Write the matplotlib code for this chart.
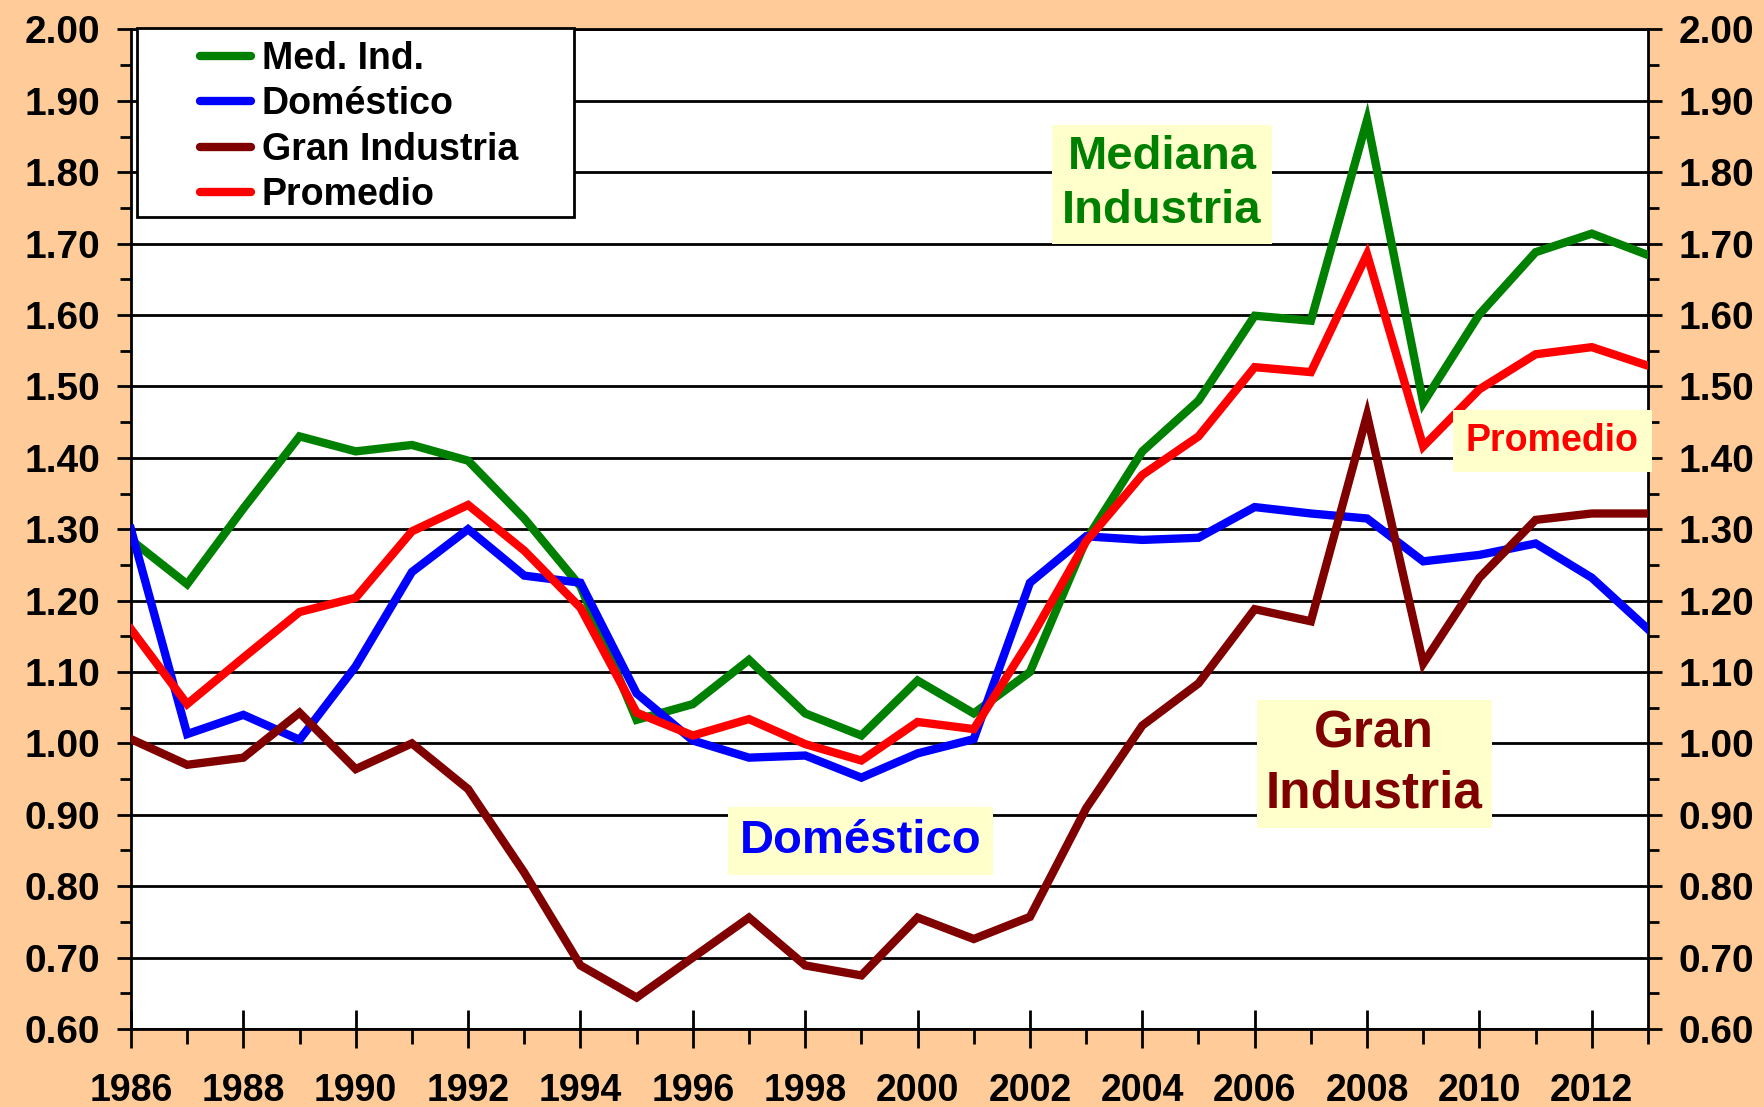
import matplotlib
matplotlib.use('Agg')
import matplotlib.pyplot as plt
from matplotlib.patches import Rectangle
from matplotlib.ticker import MultipleLocator, FormatStrFormatter

years = list(range(1986, 2014))

med_ind = [1.285, 1.223, 1.329, 1.430, 1.409, 1.418, 1.396, 1.315, 1.220, 1.033,
           1.055, 1.117, 1.042, 1.011, 1.088, 1.042, 1.100, 1.285, 1.409, 1.480,
           1.599, 1.592, 1.873, 1.477, 1.601, 1.688, 1.714, 1.684]
domestico = [1.300, 1.013, 1.040, 1.005, 1.108, 1.240, 1.300, 1.235, 1.225, 1.070,
             1.004, 0.980, 0.983, 0.952, 0.986, 1.006, 1.225, 1.290, 1.285, 1.288,
             1.331, 1.322, 1.315, 1.255, 1.264, 1.280, 1.232, 1.160]
gran_ind = [1.006, 0.970, 0.980, 1.043, 0.964, 1.000, 0.936, 0.819, 0.689, 0.644,
            0.700, 0.756, 0.689, 0.675, 0.756, 0.726, 0.757, 0.909, 1.025, 1.084,
            1.188, 1.171, 1.460, 1.112, 1.232, 1.313, 1.322, 1.322]
promedio = [1.160, 1.055, 1.120, 1.184, 1.204, 1.297, 1.334, 1.270, 1.190, 1.043,
            1.011, 1.034, 0.999, 0.976, 1.030, 1.020, 1.145, 1.283, 1.376, 1.430,
            1.527, 1.520, 1.685, 1.416, 1.496, 1.545, 1.555, 1.529]

series = [
    ("Med. Ind.", med_ind, "#008000"),
    ("Doméstico", domestico, "#0000FF"),
    ("Gran Industria", gran_ind, "#800000"),
    ("Promedio", promedio, "#FF0000"),
]

BG = "#FFCC99"
NOTE_BG = "#FFFFCC"
plt.rcParams['font.family'] = ['Liberation Sans', 'DejaVu Sans']
plt.rcParams['font.weight'] = 'bold'

fig = plt.figure(figsize=(17.65, 11.07), dpi=100, facecolor=BG)
ax = fig.add_axes([0.0742, 0.0705, 0.8595, 0.9029])
ax.set_facecolor("white")

for label, vals, color in series:
    ax.plot(years, vals, color=color, lw=6, label=label, solid_joinstyle='miter', zorder=3)

ax.set_xlim(1986, 2013)
ax.set_ylim(0.60, 2.00)

ax.yaxis.set_major_locator(MultipleLocator(0.1))
ax.yaxis.set_minor_locator(MultipleLocator(0.05))
ax.yaxis.set_major_formatter(FormatStrFormatter('%.2f'))
ax.xaxis.set_major_locator(MultipleLocator(2))
ax.xaxis.set_minor_locator(MultipleLocator(1))

ax.grid(axis='y', which='major', color='black', lw=2, zorder=1)
for s in ax.spines.values():
    s.set_color('black')
    s.set_linewidth(2)

ax.tick_params(axis='y', which='major', left=True, right=True, labelleft=True, labelright=True,
               direction='out', length=10, width=2, labelsize=28, pad=12)
ax.tick_params(axis='y', which='minor', left=True, right=True, direction='out', length=8, width=2)
ax.tick_params(axis='x', which='major', direction='inout', length=28, width=2, labelsize=27, pad=18)
ax.tick_params(axis='x', which='minor', direction='out', length=11, width=2)
for lab in ax.get_xticklabels() + ax.get_yticklabels():
    lab.set_fontweight('bold')

# legend: frame drawn separately to get the wide side margins
fig.patches.append(Rectangle((0.0778, 0.8037), 0.2475, 0.1709, transform=fig.transFigure,
                             fc='white', ec='black', lw=2, zorder=5))
leg = fig.legend(loc='upper left', bbox_to_anchor=(0.1133, 0.963), fontsize=27, frameon=False,
                 handlelength=1.35, handletextpad=0.3, borderpad=0.0, labelspacing=0.25,
                 borderaxespad=0.0)
leg.set_zorder(6)
for line in leg.get_lines():
    line.set_linewidth(6)
    line.set_solid_capstyle('round')
for t in leg.get_texts():
    t.set_fontweight('bold')

def note(x, y, text, color, size, pad=0.25):
    ax.text(x, y, text, color=color, fontsize=size, fontweight='bold', ha='center', va='center',
            linespacing=1.3, zorder=4,
            bbox=dict(boxstyle='square,pad=%s' % pad, fc=NOTE_BG, ec='none'))

note(2004.35, 1.783, "Mediana\nIndustria", "#008000", 34, 0.22)
note(1998.99, 0.863, "Doméstico", "#0000FF", 34)
note(2008.13, 0.971, "Gran\nIndustria", "#800000", 37, 0.18)
note(2011.3, 1.424, "Promedio", "#FF0000", 27, 0.35)

fig.savefig("out.png", dpi=100, facecolor=BG)
